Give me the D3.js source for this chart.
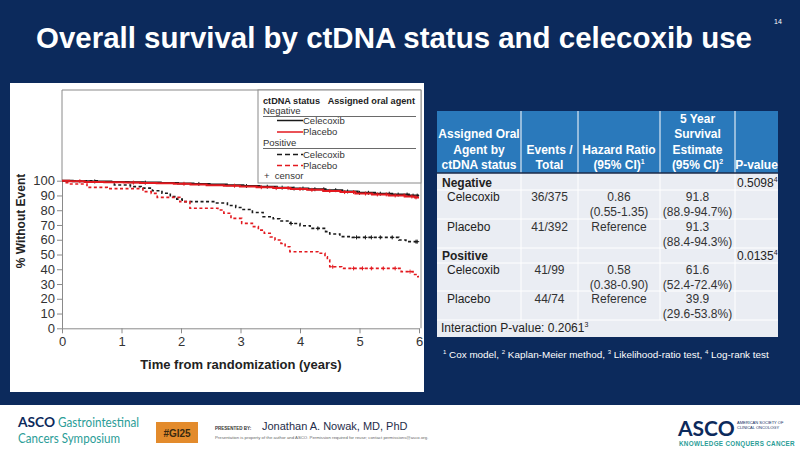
<!DOCTYPE html>
<html><head><meta charset="utf-8">
<script src="https://cdn.jsdelivr.net/npm/d3@7"></script>
<style>
html,body{margin:0;padding:0;background:#0c2a5c;}
svg{display:block;font-family:"Liberation Sans",Arial,sans-serif;}
</style></head>
<body>
<svg id="c" width="800" height="455"></svg>
<script>
// ---------- data ----------
const yTicks = [0,10,20,30,40,50,60,70,80,90,100];
const xTicks = [0,1,2,3,4,5,6];
// Kaplan-Meier step points [years, % without event]
const negCele = [[0,100],[0.18,99.7],[0.45,99.5],[0.83,99.2],[1.12,98.9],[1.37,98.7],[1.66,98.4],[1.95,98.1],[2.21,97.8],[2.48,97.4],[2.77,96.9],[3.05,96.4],[3.32,95.9],[3.61,95.3],[3.88,94.7],[4.14,94.2],[4.43,93.6],[4.71,92.7],[4.97,91.8],[5.26,91.2],[5.55,90.6],[5.83,89.9],[6.0,89.9]];
const negPlac = [[0,100],[0.12,99.6],[0.38,99.2],[0.71,98.9],[1.04,98.7],[1.31,98.5],[1.59,98.2],[1.88,97.9],[2.16,97.5],[2.43,97.0],[2.72,96.6],[2.99,96.1],[3.27,95.6],[3.55,95.0],[3.84,94.4],[4.12,93.8],[4.39,93.1],[4.68,92.3],[4.93,91.3],[5.21,90.7],[5.49,90.0],[5.77,89.3],[5.93,88.7],[6.0,88.7]];
const posCele = [[0,100],[0.62,99],[0.88,97.1],[1.15,96],[1.33,95],[1.52,93.2],[1.68,91.5],[1.82,89.2],[1.93,87.5],[2.02,85.8],[2.58,84.9],[2.78,83.2],[2.92,81.8],[3.02,80.5],[3.2,78.5],[3.38,75.6],[3.55,74.2],[3.66,72.7],[3.84,71],[4.0,69.5],[4.17,67.7],[4.43,65.5],[4.5,63.9],[4.67,62.1],[4.88,61.6],[5.66,59.8],[5.78,58.7],[6.0,58.7]];
const posPlac = [[0,100],[0.05,98.6],[0.12,97.8],[0.42,95.5],[0.76,94.6],[1.36,92.6],[1.5,91.4],[1.6,88.7],[1.98,85.8],[2.15,81.3],[2.62,80.1],[2.72,77.9],[2.84,74.5],[3.02,71.1],[3.2,68.9],[3.3,66.5],[3.4,64.4],[3.5,61.9],[3.58,59.8],[3.68,57.5],[3.75,55.3],[3.83,51.9],[4.3,50.8],[4.42,48.5],[4.46,46.3],[4.5,41.7],[4.7,40.6],[5.7,38.4],[5.9,36.5],[5.98,35],[6.0,35]];
// censor times (years)
const negCeleCensor = [0.55,1.4,2.3,3.1,3.45,3.7,3.9,4.05,4.25,4.4,4.6,4.8,5.0,5.15,5.35,5.5,5.65,5.8,5.9,5.97];
const negPlacCensor = [0.3,1.2,2.05,2.9,3.35,3.6,3.8,4.0,4.2,4.5,4.75,4.9,5.1,5.3,5.45,5.6,5.75,5.88,5.95];
const posCeleCensor = [3.85,4.3,4.95,5.1,5.2,5.35,5.55,5.95,5.97];
const posPlacCensor = [4.55,4.9,5.05,5.2,5.4,5.6,5.85];

// table
const tableHeaders = [["Assigned Oral","Agent by","ctDNA status"],["Events /","Total"],["Hazard Ratio","(95% CI)|1"],["5 Year","Survival","Estimate","(95% CI)|2"],["P-value"]];
const tableRows = [
  {label:"Negative", bold:true, events:"", hr:["",""], surv:["",""], p:"0.5098|4"},
  {label:"Celecoxib", bold:false, events:"36/375", hr:["0.86","(0.55-1.35)"], surv:["91.8","(88.9-94.7%)"], p:""},
  {label:"Placebo", bold:false, events:"41/392", hr:["Reference",""], surv:["91.3","(88.4-94.3%)"], p:""},
  {label:"Positive", bold:true, events:"", hr:["",""], surv:["",""], p:"0.0135|4"},
  {label:"Celecoxib", bold:false, events:"41/99", hr:["0.58","(0.38-0.90)"], surv:["61.6","(52.4-72.4%)"], p:""},
  {label:"Placebo", bold:false, events:"44/74", hr:["Reference",""], surv:["39.9","(29.6-53.8%)"], p:""}
];
const interaction = "Interaction P-value: 0.2061|3";
const footnoteParts = [["1"," Cox model, "],["2"," Kaplan-Meier method, "],["3"," Likelihood-ratio test, "],["4"," Log-rank test"]];

// ---------- drawing ----------
const svg = d3.select("#c");
const NAVY = "#0c2a5c";
svg.append("rect").attr("width",800).attr("height",455).attr("fill",NAVY);

// title
svg.append("text").attr("x",36).attr("y",48).attr("fill","#fff")
  .attr("font-size",30).attr("font-weight","bold")
  .attr("textLength",716).attr("lengthAdjust","spacingAndGlyphs")
  .text("Overall survival by ctDNA status and celecoxib use");
svg.append("text").attr("x",774).attr("y",24).attr("fill","#fff").attr("font-size",7).text("14");

// chart panel
svg.append("rect").attr("x",10).attr("y",83).attr("width",414).attr("height",309).attr("fill","#fff");

const x = d3.scaleLinear().domain([0,6]).range([62,419]);
const y = d3.scaleLinear().domain([0,100]).range([328.3,180.7]);
const plotTop = 90, plotRight = 421;

svg.append("path").attr("d",`M${x(0)},${plotTop}H${plotRight}V${y(0)}`)
  .attr("fill","none").attr("stroke","#8a8a8a").attr("stroke-width",1);

const gy = svg.append("g").attr("transform",`translate(${x(0)},0)`)
  .call(d3.axisLeft(y).tickValues(yTicks).tickSize(5).tickPadding(2).tickSizeOuter(0).tickFormat(d3.format("d")));
const gx = svg.append("g").attr("transform",`translate(0,${y(0)})`)
  .call(d3.axisBottom(x).tickValues(xTicks).tickSize(5).tickPadding(3).tickSizeOuter(0).tickFormat(d3.format("d")));
[gx,gy].forEach(g=>{
  g.select(".domain").attr("stroke","#8a8a8a");
  g.selectAll(".tick line").attr("stroke","#8a8a8a");
  g.selectAll(".tick text").attr("fill","#333").attr("font-size",13).attr("font-family","Liberation Sans, Arial, sans-serif");
});
svg.append("line").attr("x1",x(0)).attr("x2",x(0)).attr("y1",plotTop).attr("y2",y(100)).attr("stroke","#8a8a8a");

svg.append("text").attr("transform",`translate(25,221) rotate(-90)`).attr("text-anchor","middle")
  .attr("font-size",12).attr("font-weight","bold").attr("fill","#222").text("% Without Event");
svg.append("text").attr("x",241).attr("y",369).attr("text-anchor","middle")
  .attr("font-size",13).attr("font-weight","bold").attr("fill","#222").text("Time from randomization (years)");

const line = d3.line().x(d=>x(d[0])).y(d=>y(d[1])).curve(d3.curveStepAfter);
const RED = "#e3191f", BLK = "#1a1a1a";
const series = [
  {data:posCele, censor:posCeleCensor, color:BLK, dash:"3,2.5", w:1.6},
  {data:posPlac, censor:posPlacCensor, color:RED, dash:"3,2.5", w:1.6},
  {data:negCele, censor:negCeleCensor, color:BLK, dash:null, w:2},
  {data:negPlac, censor:negPlacCensor, color:RED, dash:null, w:2}
];
function survAt(data,t){ let v=data[0][1]; for(const d of data){ if(d[0]<=t) v=d[1]; } return v; }
series.forEach(s=>{
  svg.append("path").attr("d",line(s.data)).attr("fill","none").attr("stroke",s.color)
    .attr("stroke-width",s.w).attr("stroke-dasharray",s.dash);
  svg.append("g").selectAll("path").data(s.censor).join("path")
    .attr("d",t=>{const cx=x(t), cy=y(survAt(s.data,t)); return `M${cx-2},${cy}H${cx+2}M${cx},${cy-2}V${cy+2}`;})
    .attr("stroke",s.color).attr("stroke-width",1);
});

// legend
const lg = svg.append("g");
lg.append("rect").attr("x",258).attr("y",plotTop).attr("width",plotRight-258).attr("height",93)
  .attr("fill","#fff").attr("stroke","#8a8a8a");
const lf = 9.5;
lg.append("text").attr("x",263).attr("y",103.5).attr("font-size",lf).attr("font-weight","bold").attr("fill","#222")
  .attr("textLength",152).attr("lengthAdjust","spacingAndGlyphs")
  .text("ctDNA status\u00a0\u00a0\u00a0Assigned oral agent");
const legendItems = [
  {group:"Negative", gy:113.5, rule:116.5, items:[{t:"Celecoxib",c:BLK,d:null,y:120.5},{t:"Placebo",c:RED,d:null,y:132}]},
  {group:"Positive", gy:145.5, rule:148.5, items:[{t:"Celecoxib",c:BLK,d:"5,3",y:154.5},{t:"Placebo",c:RED,d:"5,3",y:165.5}]}
];
legendItems.forEach(g=>{
  lg.append("text").attr("x",263).attr("y",g.gy).attr("font-size",lf).attr("fill","#333").text(g.group);
  lg.append("line").attr("x1",263).attr("x2",416).attr("y1",g.rule).attr("y2",g.rule).attr("stroke","#444").attr("stroke-width",0.8);
  g.items.forEach(it=>{
    lg.append("line").attr("x1",277).attr("x2",303).attr("y1",it.y).attr("y2",it.y)
      .attr("stroke",it.c).attr("stroke-width",1.5).attr("stroke-dasharray",it.d);
    lg.append("text").attr("x",303).attr("y",it.y+3.3).attr("font-size",lf).attr("fill","#333").text(it.t);
  });
});
lg.append("text").attr("x",264).attr("y",179).attr("font-size",lf).attr("fill","#333").text("+\u00a0 censor");

// ---------- table ----------
const colX = [437,521,578,660,735,778];
const headTop = 111, headBot = 173, bodyBot = 337;
const rowY = [183,197,227,256,270,299];
const tg = svg.append("g");
tg.append("rect").attr("x",colX[0]).attr("y",headTop).attr("width",colX[5]-colX[0]).attr("height",headBot-headTop).attr("fill","#2a79bb");
tg.append("rect").attr("x",colX[0]).attr("y",headBot).attr("width",colX[5]-colX[0]).attr("height",bodyBot-headBot).attr("fill","#eaedf3");
for(let i=1;i<5;i++){
  tg.append("line").attr("x1",colX[i]).attr("x2",colX[i]).attr("y1",headTop).attr("y2",320).attr("stroke","#fff").attr("stroke-width",1);
}
[190,219,248,263,291,320].forEach(yy=>{
  tg.append("line").attr("x1",colX[0]).attr("x2",colX[5]).attr("y1",yy).attr("y2",yy).attr("stroke","#fff").attr("stroke-width",1);
});
tg.append("line").attr("x1",colX[0]).attr("x2",colX[5]).attr("y1",headBot).attr("y2",headBot).attr("stroke","#1b2a48").attr("stroke-width",1.5);

function supText(sel, str){
  const [main, sup] = str.split("|");
  sel.append("tspan").text(main);
  if(sup) sel.append("tspan").attr("font-size",7).attr("dy",-5).text(sup);
}
const hf = 12, lh = 15.5;
tableHeaders.forEach((lines,i)=>{
  const cx = (colX[i]+colX[i+1])/2;
  lines.forEach((ln,j)=>{
    const yy = 171 - (lines.length-1-j)*lh;
    const t = tg.append("text").attr("x",cx).attr("y",yy-2).attr("text-anchor","middle")
      .attr("font-size",hf).attr("font-weight","bold").attr("fill","#fff");
    supText(t, ln);
  });
});
const bf = 12;
tableRows.forEach((r,i)=>{
  const yy = rowY[i]+4;
  tg.append("text").attr("x", r.bold? colX[0]+5 : colX[0]+10).attr("y",yy).attr("font-size",bf)
    .attr("font-weight", r.bold?"bold":"normal").attr("fill","#222").text(r.label);
  tg.append("text").attr("x",(colX[1]+colX[2])/2).attr("y",yy).attr("text-anchor","middle").attr("font-size",bf).attr("fill","#333").text(r.events);
  r.hr.forEach((s,j)=> tg.append("text").attr("x",(colX[2]+colX[3])/2).attr("y",yy+j*15).attr("text-anchor","middle").attr("font-size",bf).attr("fill","#333").text(s));
  r.surv.forEach((s,j)=> tg.append("text").attr("x",(colX[3]+colX[4])/2).attr("y",yy+j*15).attr("text-anchor","middle").attr("font-size",bf).attr("fill","#333").text(s));
  if(r.p){ const t = tg.append("text").attr("x",colX[4]+2).attr("y",yy).attr("font-size",bf).attr("fill","#222"); supText(t,r.p); }
});
{ const t = tg.append("text").attr("x",colX[0]+4).attr("y",332).attr("font-size",bf).attr("fill","#222"); supText(t, interaction); }

// footnote
{
  const t = svg.append("text").attr("x",443).attr("y",358).attr("font-size",9.9).attr("fill","#fff");
  footnoteParts.forEach(p=>{
    t.append("tspan").attr("font-size",6).attr("dy",-4).text(p[0]);
    t.append("tspan").attr("font-size",9.9).attr("dy",4).text(p[1]);
  });
}

// ---------- footer ----------
svg.append("rect").attr("x",0).attr("y",405).attr("width",800).attr("height",50).attr("fill","#fff");
const TEAL = "#2a9d97";
svg.append("text").attr("x",18).attr("y",427).attr("font-size",14).attr("font-family","Lato, sans-serif")
  .attr("font-weight","bold").attr("fill","#0c2a5c").attr("textLength",37).attr("lengthAdjust","spacingAndGlyphs").text("ASCO");
svg.append("text").attr("x",58).attr("y",427).attr("font-size",14).attr("font-family","Lato, sans-serif")
  .attr("fill",TEAL).attr("textLength",81).attr("lengthAdjust","spacingAndGlyphs").text("Gastrointestinal");
svg.append("text").attr("x",18).attr("y",443).attr("font-size",14).attr("font-family","Lato, sans-serif").attr("fill",TEAL)
  .attr("textLength",102).attr("lengthAdjust","spacingAndGlyphs").text("Cancers Symposium");
svg.append("rect").attr("x",156).attr("y",422).attr("width",42).attr("height",21).attr("fill","#e38b2c");
svg.append("text").attr("x",177).attr("y",436.5).attr("text-anchor","middle").attr("font-size",10).attr("font-weight","bold").attr("fill","#3a2a10").text("#GI25");
svg.append("text").attr("x",215).attr("y",430).attr("font-size",4.5).attr("font-weight","bold").attr("fill","#333").text("PRESENTED BY:");
svg.append("text").attr("x",262).attr("y",430).attr("font-size",11).attr("fill","#1f2d4a").text("Jonathan A. Nowak, MD, PhD");
svg.append("text").attr("x",215).attr("y",439).attr("font-size",4.3).attr("fill","#666")
  .text("Presentation is property of the author and ASCO. Permission required for reuse; contact permissions@asco.org.");
svg.append("text").attr("x",678).attr("y",436).attr("font-size",21).attr("font-weight","bold").attr("font-family","Lato, sans-serif").attr("fill","#0c2a5c").text("ASCO");
svg.append("text").attr("x",737).attr("y",424).attr("font-size",4).attr("fill","#0c2a5c").text("AMERICAN SOCIETY OF");
svg.append("text").attr("x",737).attr("y",429).attr("font-size",4).attr("fill","#0c2a5c").text("CLINICAL ONCOLOGY");
svg.append("text").attr("x",679).attr("y",446).attr("font-size",6.3).attr("font-weight","bold").attr("fill",TEAL).attr("letter-spacing",0.3).text("KNOWLEDGE CONQUERS CANCER");
</script>
</body></html>
